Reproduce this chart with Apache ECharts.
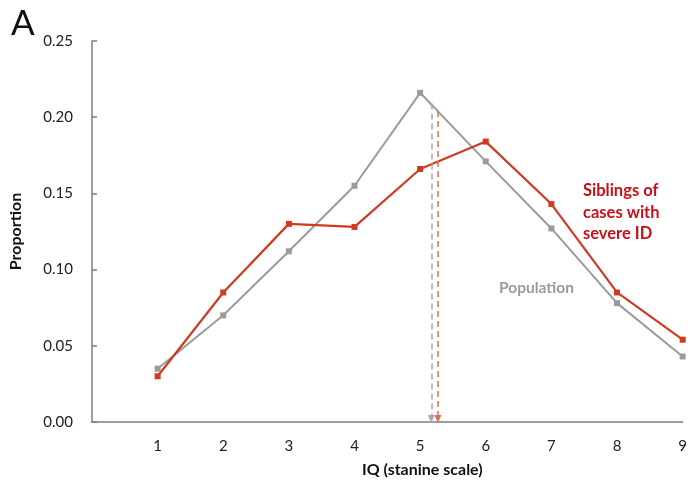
<!DOCTYPE html>
<html><head><meta charset="utf-8">
<script src="https://cdn.jsdelivr.net/npm/echarts@6/dist/echarts.min.js"></script>
<style>html,body{margin:0;padding:0;background:#fff}#c{width:690px;height:486px}</style>
</head><body><div id="c"></div>
<script>
const categories = [1, 2, 3, 4, 5, 6, 7, 8, 9];
const population = [0.035, 0.070, 0.112, 0.155, 0.216, 0.171, 0.127, 0.078, 0.043];
const siblings = [0.030, 0.085, 0.130, 0.128, 0.166, 0.184, 0.143, 0.085, 0.054];
const popMean = 5.17;
const sibMean = 5.27;
const popArrowTop = 0.209;
const sibArrowTop = 0.204;
const yTicks = [0, 0.05, 0.10, 0.15, 0.20, 0.25];

const FONT = 'Lato, "Open Sans", sans-serif';
const GRAY = '#9b9b9b';
const RED = '#d13a1f';

const chart = echarts.init(document.getElementById('c'));
chart.setOption({
  animation: false,
  grid: {left: 89, right: 6, top: 41, bottom: 64},
  xAxis: {
    type: 'value', min: 0, max: 9, interval: 1,
    name: 'IQ (stanine scale)', nameLocation: 'middle', nameGap: 40,
    nameTextStyle: {fontFamily: FONT, fontSize: 16, fontWeight: 'bold', color: '#111', padding: [0, 0, 0, 70]},
    axisLine: {lineStyle: {color: '#7f7f7f', width: 1.5}},
    axisTick: {show: false},
    splitLine: {show: false},
    axisLabel: {fontFamily: FONT, fontSize: 15, color: '#222', margin: 17,
      formatter: v => (v === 0 ? '' : String(v))}
  },
  yAxis: {
    type: 'value', min: 0, max: 0.25, interval: 0.05,
    name: 'Proportion', nameLocation: 'middle', nameGap: 68,
    nameTextStyle: {fontFamily: FONT, fontSize: 16, fontWeight: 'bold', color: '#111'},
    axisLine: {show: true, lineStyle: {color: '#7f7f7f', width: 1.5}},
    axisTick: {show: true, inside: true, length: 5, lineStyle: {color: '#7f7f7f', width: 1.5}},
    splitLine: {show: false},
    axisLabel: {fontFamily: FONT, fontSize: 15, color: '#222', margin: 19,
      formatter: v => v.toFixed(2)}
  },
  series: [
    {
      type: 'line', name: 'Population',
      data: categories.map((c, i) => [c, population[i]]),
      symbol: 'rect', symbolSize: 6,
      lineStyle: {color: GRAY, width: 2}, itemStyle: {color: GRAY}, z: 3
    },
    {
      type: 'line', name: 'Siblings',
      data: categories.map((c, i) => [c, siblings[i]]),
      symbol: 'rect', symbolSize: 6,
      lineStyle: {color: RED, width: 2.2}, itemStyle: {color: RED}, z: 4
    },
    {
      type: 'line', data: [], silent: true,
      markLine: {
        silent: true, symbol: ['none', 'triangle'], symbolSize: [7, 8], label: {show: false},
        data: [
          [{coord: [popMean, popArrowTop], lineStyle: {color: '#a8a8a8', type: [6, 4], width: 1.5}, itemStyle: {color: '#a8a8a8'}},
           {coord: [popMean, 0.002]}],
          [{coord: [sibMean, sibArrowTop], lineStyle: {color: '#e0704d', type: [6, 4], width: 1.5}, itemStyle: {color: '#e0452a'}},
           {coord: [sibMean, 0.002]}]
        ]
      }
    }
  ],
  graphic: [
    {type: 'text', left: 11, top: 6, style: {text: 'A', font: '35px ' + FONT, fill: '#111'}},
    {type: 'text', left: 499, top: 280, style: {text: 'Population', font: 'bold 15.5px ' + FONT, fill: '#9a9a9a'}},
    {type: 'text', left: 583, top: 180, style: {text: 'Siblings of\ncases with\nsevere ID', font: 'bold 16.5px ' + FONT, fill: '#c8101a', lineHeight: 21.5}}
  ]
});
</script></body></html>
